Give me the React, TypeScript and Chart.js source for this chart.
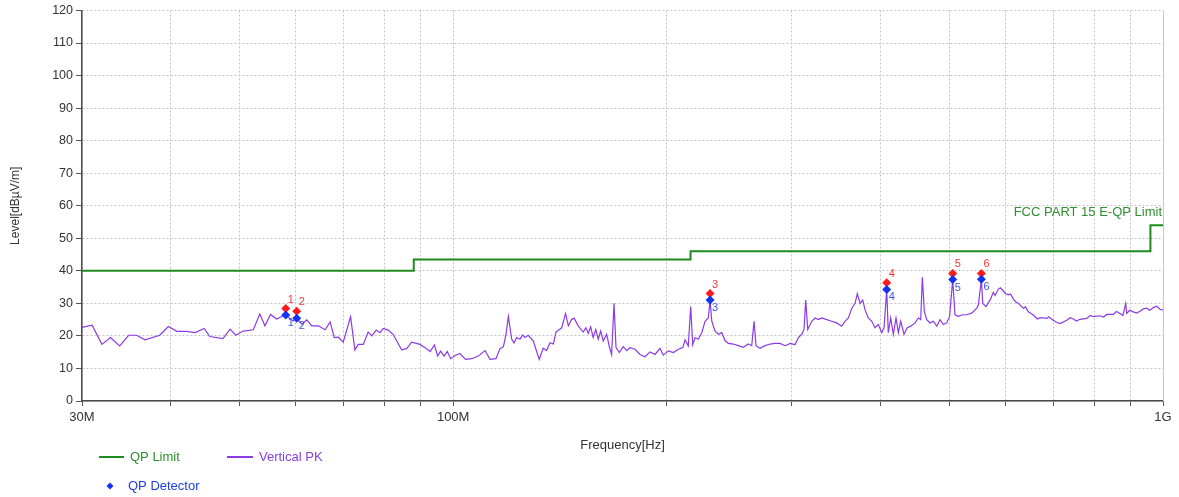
import React, { useEffect, useRef } from 'react';
import { Chart, registerables } from 'chart.js';

Chart.register(...registerables);

const FONT = '"Liberation Sans", Arial, sans-serif';

// Trace: Vertical PK (frequency in MHz, level in dBµV/m)
const traceFreq = [
  30.0, 31.0, 32.0, 32.9, 33.9, 34.9, 35.8, 36.8, 38.6, 39.7,
  40.8, 42.1, 43.3, 44.6, 45.4, 47.4, 48.5, 49.4, 50.6, 52.3,
  53.4, 54.3, 55.3, 56.4, 57.6, 58.1, 59.5, 60.2, 61.2, 62.2,
  63.2, 64.6, 66.0, 67.1, 68.0, 68.9, 70.0, 71.7, 72.7, 73.5,
  74.7, 75.9, 76.8, 77.9, 78.9, 79.7, 81.0, 82.3, 84.6, 86.0,
  87.4, 89.8, 91.3, 92.8, 94.1, 95.1, 96.0, 97.1, 98.1, 99.2,
  100.6, 102.2, 104.1, 106.2, 108.5, 110.9, 112.7, 114.9, 116.4, 117.7,
  118.7, 119.6, 120.9, 121.8, 122.9, 124.2, 125.3, 126.2, 127.6, 129.7,
  130.8, 132.2, 133.9, 135.4, 136.9, 138.4, 139.6, 142.2, 144.0, 145.3,
  146.9, 148.1, 150.0, 152.5, 153.8, 155.0, 156.2, 157.5, 158.8, 160.1,
  161.4, 162.7, 164.5, 165.9, 167.2, 168.5, 169.6, 171.4, 173.6, 175.6,
  177.4, 180.4, 183.3, 186.3, 189.4, 192.5, 195.6, 197.7, 201.0, 204.3,
  207.6, 210.6, 212.2, 214.4, 216.1, 217.5, 219.2, 221.5, 224.0, 226.4,
  228.8, 230.1, 231.4, 233.8, 236.4, 239.0, 241.6, 244.2, 248.1, 252.2,
  256.3, 260.5, 263.4, 265.4, 267.1, 270.6, 275.0, 279.5, 284.1, 288.7,
  293.5, 298.3, 303.1, 306.4, 309.8, 312.1, 313.8, 315.9, 320.0, 323.5,
  326.9, 330.5, 336.0, 341.4, 347.0, 352.7, 356.5, 360.4, 364.4, 368.3,
  371.0, 374.3, 377.6, 380.4, 384.5, 388.8, 392.9, 397.2, 401.6, 404.6,
  408.1, 410.2, 413.4, 417.0, 420.6, 423.8, 427.1, 431.7, 436.3, 441.2,
  447.4, 452.2, 455.7, 458.1, 461.1, 464.7, 469.7, 474.8, 480.0, 485.2,
  490.4, 495.8, 500.5, 505.5, 509.3, 514.8, 522.2, 529.0, 537.7, 546.5,
  549.4, 554.8, 557.3, 563.2, 570.6, 576.7, 580.0, 586.2, 590.0, 595.7,
  600.0, 605.5, 610.0, 615.4, 620.0, 625.5, 635.7, 640.0, 646.1, 656.7,
  665.0, 671.0, 685.8, 690.0, 700.3, 708.0, 716.1, 731.8, 740.0, 747.7,
  755.0, 764.1, 780.9, 790.0, 797.8, 815.2, 825.0, 833.1, 851.1, 860.0,
  869.8, 878.0, 886.1, 888.9, 898.0, 908.2, 918.0, 928.2, 938.0, 948.6,
  958.0, 969.1, 980.0, 990.4, 1000.0,
];
const traceLevel = [
  22.6, 23.3, 17.4, 19.5, 16.9, 20.2, 20.2, 18.8, 20.2, 22.9,
  21.4, 21.4, 21.0, 22.3, 19.8, 19.2, 22.1, 20.2, 21.5, 21.9,
  26.7, 23.1, 26.6, 25.2, 26.2, 26.4, 24.6, 25.4, 23.6, 24.9,
  23.1, 23.1, 21.9, 24.3, 19.5, 19.6, 18.1, 25.9, 15.7, 17.4,
  17.4, 21.2, 20.0, 21.8, 21.0, 22.3, 21.8, 20.5, 15.7, 16.1,
  18.1, 17.4, 16.4, 15.2, 17.2, 13.8, 15.3, 13.8, 15.2, 13.0,
  14.0, 14.6, 12.8, 13.0, 13.8, 15.5, 12.8, 13.0, 16.1, 16.7,
  20.5, 26.0, 19.0, 17.8, 19.5, 19.0, 20.3, 19.5, 20.2, 18.4,
  15.9, 12.8, 16.2, 15.5, 17.9, 17.5, 21.2, 22.5, 26.9, 23.1,
  25.1, 25.4, 23.1, 21.2, 22.5, 20.8, 22.8, 19.5, 22.0, 19.0,
  21.5, 18.4, 20.5, 16.9, 14.3, 30.0, 16.4, 14.9, 16.7, 15.5,
  16.4, 15.9, 14.3, 13.6, 15.1, 14.3, 16.2, 14.1, 15.4, 14.9,
  15.9, 16.4, 18.8, 16.9, 29.0, 17.3, 19.5, 19.0, 21.0, 24.5,
  25.5, 31.0, 24.5, 21.5, 20.5, 21.0, 18.5, 17.7, 17.5, 17.0,
  16.5, 17.5, 17.0, 24.5, 17.0, 16.2, 17.0, 17.5, 17.7, 17.7,
  17.0, 17.7, 17.3, 19.5, 20.5, 22.0, 31.0, 22.0, 24.5, 25.5,
  25.0, 25.5, 25.0, 24.5, 24.0, 23.0, 24.5, 25.5, 28.5, 30.0,
  33.0, 30.0, 31.0, 28.0, 25.5, 24.5, 22.5, 23.5, 21.0, 22.5,
  34.3, 21.0, 25.5, 20.5, 25.5, 21.0, 24.5, 20.5, 22.5, 23.0,
  24.0, 25.5, 25.0, 38.0, 27.5, 25.0, 24.0, 24.5, 23.0, 25.0,
  23.5, 24.0, 26.0, 37.3, 26.5, 26.0, 26.5, 26.5, 27.0, 28.5,
  29.5, 37.4, 30.0, 29.0, 31.0, 33.4, 32.4, 34.4, 34.8, 33.8,
  33.0, 32.6, 32.9, 31.3, 30.5, 30.0, 28.5, 28.9, 27.4, 26.4,
  25.2, 25.6, 25.4, 25.9, 24.8, 24.2, 23.8, 24.8, 25.6, 25.2,
  24.6, 25.1, 25.4, 26.3, 25.9, 26.2, 25.8, 26.6, 26.6, 27.5,
  26.9, 26.3, 30.0, 26.9, 27.9, 27.4, 27.0, 27.6, 28.3, 28.5,
  27.9, 28.7, 29.1, 28.2, 27.9,
];

// QP limit (stepped)
const limitFreq = [30, 88, 216, 960, 1000];
const limitLevel = [40, 43.5, 46, 54, 54];
const limitName = 'FCC PART 15 E-QP Limit';

// Markers
const markerLabels = ['1', '2', '3', '4', '5', '6'];
const markerFreq = [58.1, 60.2, 230.1, 408.1, 505.5, 554.8];
const markerPeak = [28.4, 27.6, 33.0, 36.3, 39.2, 39.2];
const markerQP = [26.4, 25.4, 31.0, 34.3, 37.3, 37.4];

// Axes
const xTickValues = [30, 40, 50, 60, 70, 80, 90, 100, 200, 300, 400, 500, 600, 700, 800, 900, 1000];
const xTickText: Record<number, string> = { 30: '30M', 100: '100M', 1000: '1G' };
const yMin = 0;
const yMax = 120;
const yStep = 10;

const GREEN = '#1f8a1f';
const PURPLE = '#8a3be6';
const RED = '#ff1a1a';
const BLUE = '#1433f0';

const overlayPlugin = {
  id: 'overlay',
  afterDraw(chart: any) {
    const ctx = chart.ctx;
    const xs = chart.scales.x;
    const ys = chart.scales.y;
    ctx.save();
    // right border
    ctx.strokeStyle = '#c8c8c8';
    ctx.lineWidth = 1;
    ctx.beginPath();
    ctx.moveTo(xs.right + 0.5, ys.top);
    ctx.lineTo(xs.right + 0.5, ys.bottom);
    ctx.stroke();

    // marker numbers
    ctx.font = `11px ${FONT}`;
    ctx.textAlign = 'left';
    ctx.textBaseline = 'middle';
    markerFreq.forEach((f, i) => {
      const px = xs.getPixelForValue(f);
      ctx.fillStyle = '#f03a3a';
      ctx.fillText(markerLabels[i], px + 2, ys.getPixelForValue(markerPeak[i]) - 9);
      ctx.fillStyle = '#3a55e0';
      ctx.fillText(markerLabels[i], px + 2, ys.getPixelForValue(markerQP[i]) + 8);
    });

    // limit name
    ctx.font = `13px ${FONT}`;
    ctx.fillStyle = '#2e8f2e';
    ctx.textAlign = 'right';
    ctx.textBaseline = 'middle';
    ctx.fillText(limitName, xs.right - 1, ys.getPixelForValue(limitLevel[limitLevel.length - 1]) - 13);

    // legend
    ctx.textAlign = 'left';
    ctx.lineWidth = 2;
    ctx.strokeStyle = GREEN;
    ctx.beginPath();
    ctx.moveTo(99, 457);
    ctx.lineTo(124, 457);
    ctx.stroke();
    ctx.fillStyle = '#2e8f2e';
    ctx.fillText('QP Limit', 130, 457);

    ctx.strokeStyle = PURPLE;
    ctx.beginPath();
    ctx.moveTo(227, 457);
    ctx.lineTo(253, 457);
    ctx.stroke();
    ctx.fillStyle = '#8a3ee0';
    ctx.fillText('Vertical PK', 259, 457);

    ctx.fillStyle = BLUE;
    ctx.beginPath();
    ctx.moveTo(110, 482.5);
    ctx.lineTo(113.5, 486);
    ctx.lineTo(110, 489.5);
    ctx.lineTo(106.5, 486);
    ctx.closePath();
    ctx.fill();
    ctx.fillStyle = '#2040e0';
    ctx.fillText('QP Detector', 128, 486);
    ctx.restore();
  },
};

export default function App() {
  const canvasRef = useRef<HTMLCanvasElement | null>(null);

  useEffect(() => {
    if (!canvasRef.current) return;
    Chart.defaults.font.family = FONT;
    const chart = new Chart(canvasRef.current, {
      type: 'line',
      data: {
        datasets: [
          {
            label: 'QP Detector',
            data: markerFreq.map((f, i) => ({ x: f, y: markerQP[i] })),
            showLine: false,
            pointStyle: 'rectRot',
            pointRadius: 4.5,
            pointBackgroundColor: BLUE,
            pointBorderColor: BLUE,
            pointBorderWidth: 0,
          },
          {
            label: 'Peak',
            data: markerFreq.map((f, i) => ({ x: f, y: markerPeak[i] })),
            showLine: false,
            pointStyle: 'rectRot',
            pointRadius: 4.5,
            pointBackgroundColor: RED,
            pointBorderColor: RED,
            pointBorderWidth: 0,
          },
          {
            label: 'Vertical PK',
            data: traceFreq.map((f, i) => ({ x: f, y: traceLevel[i] })),
            borderColor: PURPLE,
            borderWidth: 1.2,
            pointRadius: 0,
            tension: 0,
          },
          {
            label: 'QP Limit',
            data: limitFreq.map((f, i) => ({ x: f, y: limitLevel[i] })),
            borderColor: GREEN,
            borderWidth: 2,
            pointRadius: 0,
            stepped: true,
          },
        ],
      },
      options: {
        animation: false,
        responsive: false,
        devicePixelRatio: 1,
        layout: { padding: { left: 0, right: 16, top: 10, bottom: 0 } },
        plugins: {
          legend: { display: false },
          tooltip: { enabled: false },
        },
        scales: {
          x: {
            type: 'logarithmic',
            min: 30,
            max: 1000,
            afterBuildTicks: (s: any) => {
              s.ticks = xTickValues.map((v) => ({ value: v }));
            },
            afterFit: (s: any) => {
              s.height = 96;
            },
            ticks: {
              autoSkip: false,
              maxRotation: 0,
              minRotation: 0,
              padding: 4,
              color: '#333',
              font: { size: 13, family: FONT },
              callback: (v: any) => xTickText[Number(v)] ?? '',
            },
            grid: { color: '#c4c4c4', lineWidth: 1, tickLength: 5, tickColor: '#555', tickWidth: 1 },
            border: { display: true, color: '#4a4a4a', width: 1.5, dash: [2, 2] },
            title: {
              display: true,
              text: 'Frequency[Hz]',
              color: '#333',
              font: { size: 13, family: FONT },
              padding: { top: 0, bottom: 44 },
            },
          },
          y: {
            min: yMin,
            max: yMax,
            afterFit: (s: any) => {
              s.width = 82;
            },
            ticks: {
              stepSize: yStep,
              padding: 3,
              color: '#333',
              font: { size: 12.5, family: FONT },
            },
            grid: { color: '#c4c4c4', lineWidth: 1, tickLength: 6, tickColor: '#555', tickWidth: 1 },
            border: { display: true, color: '#4a4a4a', width: 1.5, dash: [2, 2] },
            title: {
              display: true,
              text: 'Level[dBµV/m]',
              color: '#333',
              font: { size: 12, family: FONT },
              padding: { top: 8, bottom: 0 },
            },
          },
        },
      },
      plugins: [overlayPlugin],
    } as any);
    return () => chart.destroy();
  }, []);

  return (
    <div style={{ position: 'fixed', left: 0, top: 0, width: 1179, height: 497, background: '#fff' }}>
      <canvas ref={canvasRef} width={1179} height={497} style={{ display: 'block', width: 1179, height: 497 }} />
    </div>
  );
}
